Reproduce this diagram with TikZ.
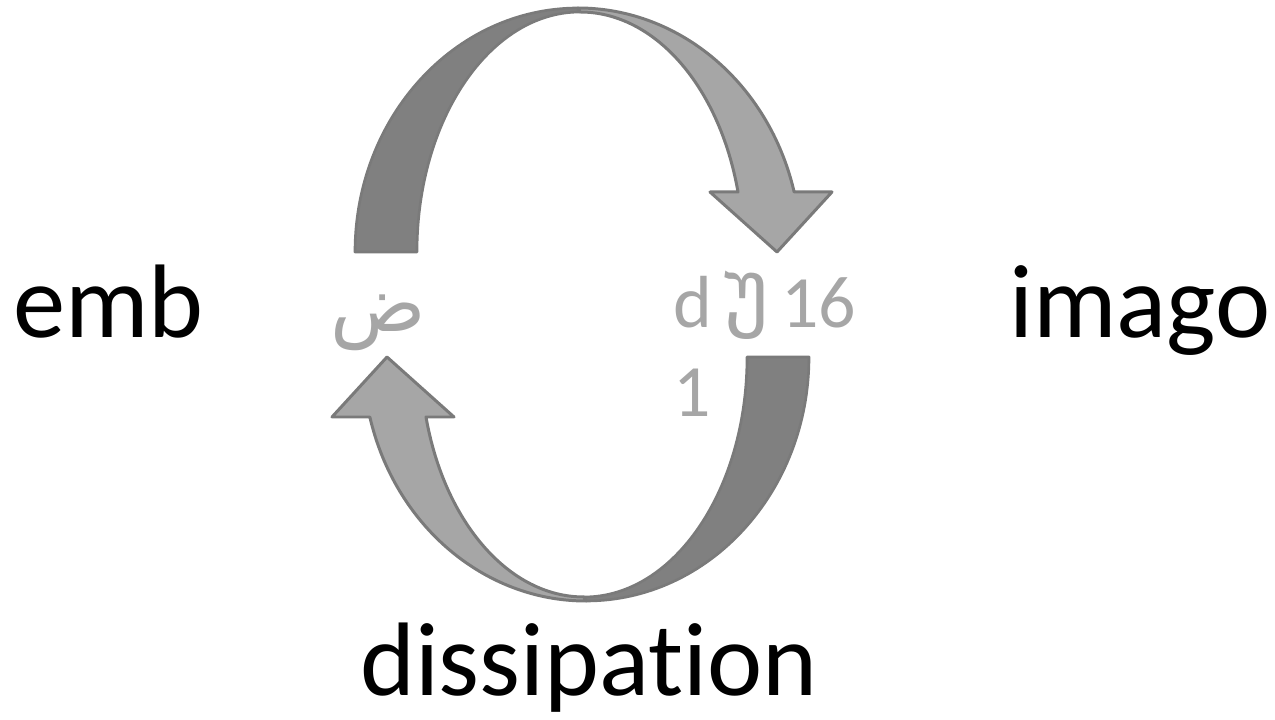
\documentclass[tikz,border=0pt]{standalone}
\usepackage{fontspec}
\setmainfont{Carlito}[Ligatures=NoCommon]
\newfontfamily\arabicfont[Script=Arabic]{DejaVu Sans}
\newfontfamily\georgfont[Scale=1.15]{DejaVu Sans}
\TeXXeTstate=1
\definecolor{arrdark}{RGB}{128,128,128}
\definecolor{arrlight}{RGB}{166,166,166}
\definecolor{arredge}{RGB}{122,122,122}

\begin{document}
\begin{tikzpicture}[x=0.02cm,y=0.02cm,
    word/.style={inner sep=0pt,font=\fontsize{59.5}{70}\selectfont},
    tag/.style={inner sep=0pt,text=arrlight,font=\fontsize{42}{51}\selectfont},
    back/.style={fill=arrdark,draw=arrdark!95!black,line width=1.5pt,line join=round},
    front/.style={fill=arrlight,draw=arredge,line width=1.7pt,line join=round}]
  \useasboundingbox (0,0) rectangle (1275,720);
  % the two half-turn arrows of the cycle
  \foreach \r in {0,180}{
    \begin{scope}[rotate around={\r:(582,415.5)}]
      \filldraw[back] (355,468) arc[start angle=180,end angle=90,x radius=223,y radius=244]
        -- (580,708) arc[start angle=90,end angle=180,x radius=163,y radius=240] -- cycle;
      \filldraw[front] (578,712) arc[start angle=90,end angle=14.24,x radius=223,y radius=244]
        -- (832,528) -- (777,468) -- (710,528) -- (738,528)
        arc[start angle=14.48,end angle=90,x radius=163,y radius=240] -- cycle;
    \end{scope}
  }
  \node[word,anchor=base west] (emb) at (13,382) {emb};
  \node[word,anchor=base west] (imago) at (1009,382) {imago};
  \node[word,anchor=base] (dissipation) at (589,24) {dissipation};
  \node[tag,anchor=base west,font=\fontsize{45}{51}\selectfont] (dad) at (330,388) {\arabicfont\beginR ض\endR};
  \node[tag,anchor=base west,align=left] (code) at (673,303) {d\,\raisebox{0.16cm}{\georgfont უ}\,16\\1};
\end{tikzpicture}
\end{document}
